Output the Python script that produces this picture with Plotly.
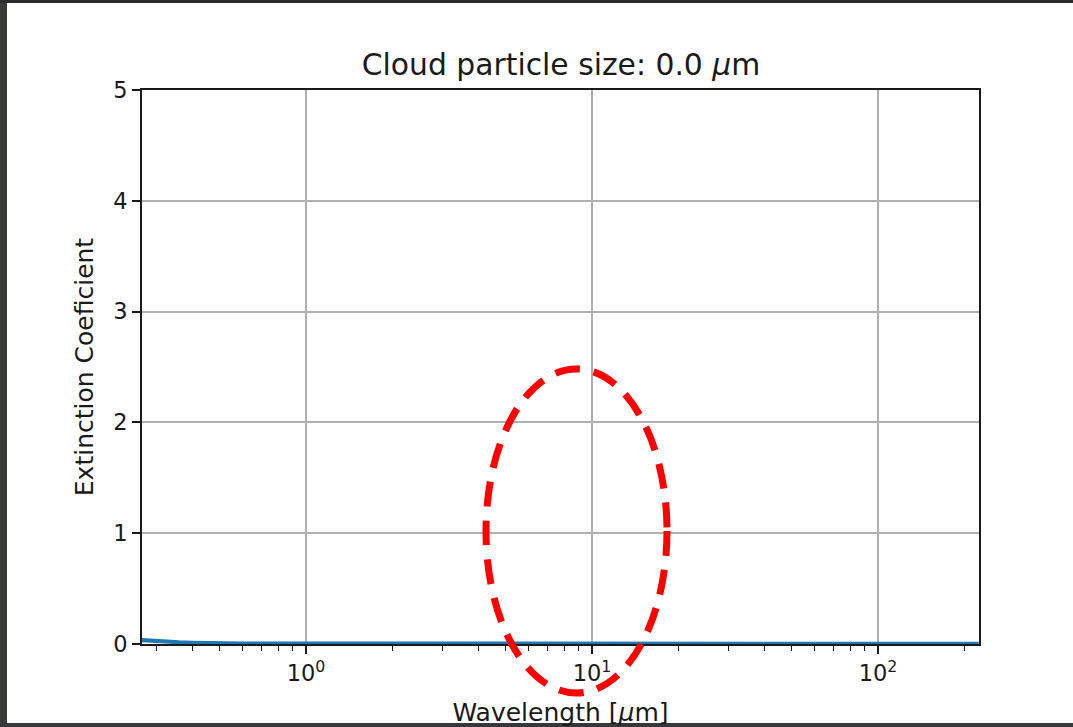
import plotly.graph_objects as go

# wavelength grid (um) and extinction coefficient
wavelength = [0.267, 0.28, 0.3, 0.33, 0.36, 0.4, 0.45, 0.5, 0.6, 0.8, 1.0, 2.0, 5.0, 10.0, 20.0, 50.0, 100.0, 225.0]
extinction = [0.035, 0.031, 0.026, 0.020, 0.015, 0.011, 0.008, 0.006, 0.005, 0.004, 0.004, 0.003, 0.003, 0.003, 0.003, 0.003, 0.003, 0.003]

x_major = [1, 10, 100]
x_major_text = ["10<sup>0</sup>", "10<sup>1</sup>", "10<sup>2</sup>"]
x_minor = [0.3, 0.4, 0.5, 0.6, 0.7, 0.8, 0.9,
           2, 3, 4, 5, 6, 7, 8, 9,
           20, 30, 40, 50, 60, 70, 80, 90, 200]
y_ticks = [0, 1, 2, 3, 4, 5]

font = "DejaVu Sans"
ink = "#1a1a1a"

fig = go.Figure()
fig.add_trace(go.Scatter(x=wavelength, y=extinction, mode="lines",
                         line=dict(color="#1f77b4", width=4), showlegend=False))

# plot area: x 142..979, y 90..644 px
def px(x):
    return (x - 142) / 837

def py(y):
    return (644 - y) / 554

shapes = [
    # red dashed ellipse drawn over the screenshot
    dict(type="circle", xref="paper", yref="paper",
         x0=px(486), x1=px(667), y0=py(693), y1=py(369),
         line=dict(color="#ff0000", width=7, dash="25px,14px"), layer="above"),
    # dark window frame around the screenshot
    dict(type="rect", xref="paper", yref="paper", x0=px(-5), x1=px(7), y0=py(735), y1=py(-5),
         fillcolor="#3a3936", line=dict(width=0), layer="above"),
    dict(type="rect", xref="paper", yref="paper", x0=px(-5), x1=px(1080), y0=py(3), y1=py(-5),
         fillcolor="#2b2b2b", line=dict(width=0), layer="above"),
    dict(type="rect", xref="paper", yref="paper", x0=px(-5), x1=px(1080), y0=py(735), y1=py(723),
         fillcolor="#35373b", line=dict(width=0), layer="above"),
]

fig.update_layout(
    width=1073, height=727,
    margin=dict(l=142, r=94, t=90, b=83),
    paper_bgcolor="white", plot_bgcolor="white",
    font=dict(family=font, color=ink, size=22),
    title=dict(text="Cloud particle size: 0.0 <i>μ</i>m", x=561 / 1073, xanchor="center",
               xref="container", y=1 - 65 / 727, yanchor="middle", yref="container",
               font=dict(size=29.8, family=font, color=ink)),
    shapes=shapes,
)

fig.update_xaxes(
    type="log", range=[-0.5734, 2.3532],
    tickvals=x_major, ticktext=x_major_text,
    ticks="outside", ticklen=8, tickwidth=1.5, tickcolor=ink,
    minor=dict(tickvals=x_minor, ticks="outside", ticklen=5, tickwidth=1.2,
               tickcolor=ink, showgrid=False),
    showgrid=True, gridcolor="#b0b0b0", gridwidth=1.5,
    showline=True, linecolor=ink, linewidth=2, mirror=True,
    zeroline=False, automargin=False,
    tickfont=dict(size=22.5, family=font, color=ink),
    title=dict(text="Wavelength [<i>μ</i>m]", standoff=24,
               font=dict(size=25, family=font, color=ink)),
)

fig.update_yaxes(
    range=[0, 5], tickvals=y_ticks,
    ticks="outside", ticklen=8, tickwidth=1.5, tickcolor=ink,
    showgrid=True, gridcolor="#b0b0b0", gridwidth=1.5,
    showline=True, linecolor=ink, linewidth=2, mirror=True,
    zeroline=False, automargin=False,
    tickfont=dict(size=22.5, family=font, color=ink),
    title=dict(text="Extinction Coeficient", standoff=12,
               font=dict(size=25, family=font, color=ink)),
)

# drop the browser's default body margin so the figure sits at the window corner
fig.write_html("out.html", config={"displayModeBar": False},
               post_script="document.body.style.margin='0';")
